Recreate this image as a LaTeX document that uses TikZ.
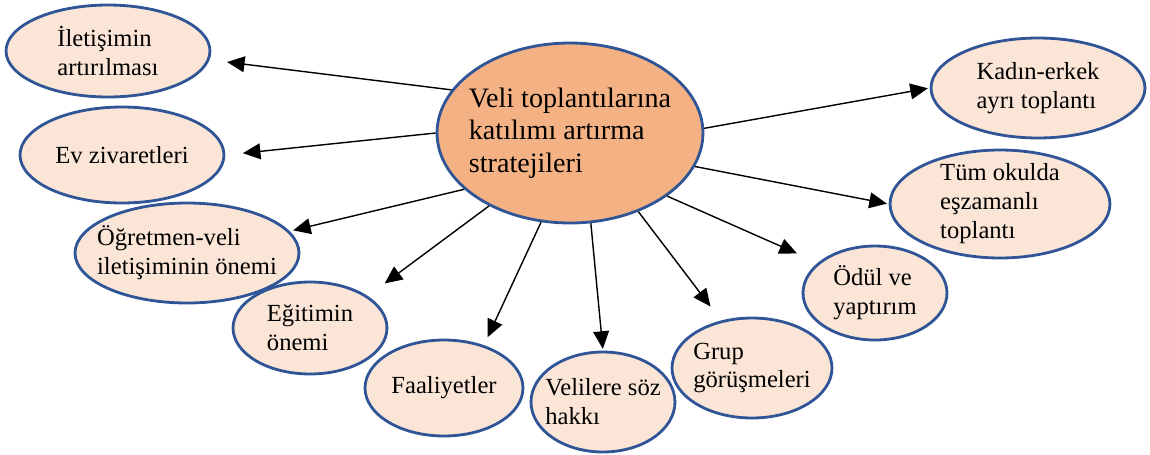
\documentclass[tikz,border=0pt]{standalone}
\usepackage{fontspec}
\setmainfont{Liberation Serif}
\usepackage{tikz}
\usetikzlibrary{arrows.meta,shapes.geometric}
\definecolor{rimblue}{HTML}{2F5597}
\definecolor{hubfill}{HTML}{F4B183}
\definecolor{leaffill}{HTML}{FBE5D6}

\begin{document}
\begin{tikzpicture}[x=0.02cm,y=-0.02cm,>={Triangle[length=10pt,width=9pt]},
  leaf/.style={ellipse,draw=rimblue,line width=1.6pt,fill=leaffill,inner xsep=-8pt,inner ysep=-8pt,align=left,font=\fontsize{14}{16.5}\selectfont},
  hubnode/.style={leaf,fill=hubfill,font=\fontsize{16}{18.5}\selectfont},
  link/.style={->,line width=0.8pt}]
\useasboundingbox (0,0) rectangle (1150,454);
\node[hubnode,minimum width=5.32cm,minimum height=3.6cm] (hub) at (570,133) {Veli toplantılarına\\katılımı artırma\\stratejileri};
\node[leaf,minimum width=4.08cm,minimum height=1.84cm] (iletisim) at (108,51) {İletişimin\\artırılması};
\node[leaf,minimum width=4.08cm,minimum height=1.92cm] (ziyaret) at (122,155) {Ev zivaretleri};
\node[leaf,minimum width=4.48cm,minimum height=2.0cm] (ogretmen) at (187,253) {Öğretmen-veli\\iletişiminin önemi};
\node[leaf,minimum width=3.08cm,minimum height=1.84cm] (egitim) at (310,328) {Eğitimin\\önemi};
\node[leaf,minimum width=3.16cm,minimum height=1.92cm] (faaliyet) at (444,388) {Faaliyetler};
\node[leaf,minimum width=2.88cm,minimum height=2.0cm] (soz) at (603,402) {Velilere söz\\hakkı};
\node[leaf,minimum width=3.2cm,minimum height=2.0cm] (grup) at (752,368) {Grup\\görüşmeleri};
\node[leaf,minimum width=2.88cm,minimum height=1.88cm] (odul) at (875,293) {Ödül ve\\yaptırım};
\node[leaf,minimum width=4.4cm,minimum height=2.16cm] (esz) at (1000,204) {Tüm okulda\\eşzamanlı\\toplantı};
\node[leaf,minimum width=4.28cm,minimum height=2.0cm] (kadin) at (1038,88) {Kadın-erkek\\ayrı toplantı};
\draw[link,shorten >=10pt] (hub.160) -- (iletisim.355);
\draw[link,shorten >=10pt] (hub.180) -- (ziyaret.east);
\draw[link,shorten >=2pt] (hub.208) -- (ogretmen.12);
\draw[link,shorten >=12pt] (hub.222) -- (egitim.29);
\draw[link,shorten >=5pt] (hub.252) -- (faaliyet.47);
\draw[link,shorten >=1pt] (hub.283) -- (soz.north);
\draw[link,shorten >=10pt] (hub.311) -- (grup.123);
\draw[link,shorten >=13pt] (hub.327) -- (odul.152);
\draw[link,shorten >=1pt] (hub.345) -- (esz.west);
\draw[link,shorten >=1pt] (hub.2) -- (kadin.west);
\end{tikzpicture}
\end{document}
